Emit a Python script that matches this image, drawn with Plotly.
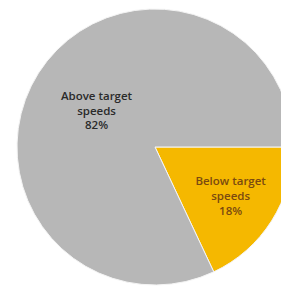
import plotly.graph_objects as go

labels = ["Below target speeds", "Above target speeds"]
display_lines = ["Below target<br>speeds", "Above target<br>speeds"]
values = [18, 82]
pct_text = ["18%", "82%"]
colors = ["#f5b800", "#b7b7b7"]
text_colors = ["#7a4a10", "#2a2a2a"]

fig = go.Figure(go.Pie(
    labels=labels,
    values=values,
    text=[f"{d}<br>{p}" for d, p in zip(display_lines, pct_text)],
    textinfo="text",
    textposition="inside",
    insidetextorientation="horizontal",
    sort=False,
    direction="clockwise",
    rotation=90,
    marker=dict(colors=colors, line=dict(color="#f4f4f4", width=1)),
    textfont=dict(family="Open Sans", size=11.5, color=text_colors, weight=600),
    hoverinfo="label+percent",
    showlegend=False,
))

fig.update_layout(
    width=289, height=287,
    margin=dict(l=9, r=4, t=1, b=10),
    paper_bgcolor="white",
    plot_bgcolor="white",
    uniformtext=dict(minsize=8, mode="show"),
)

fig.write_html("out.html")
